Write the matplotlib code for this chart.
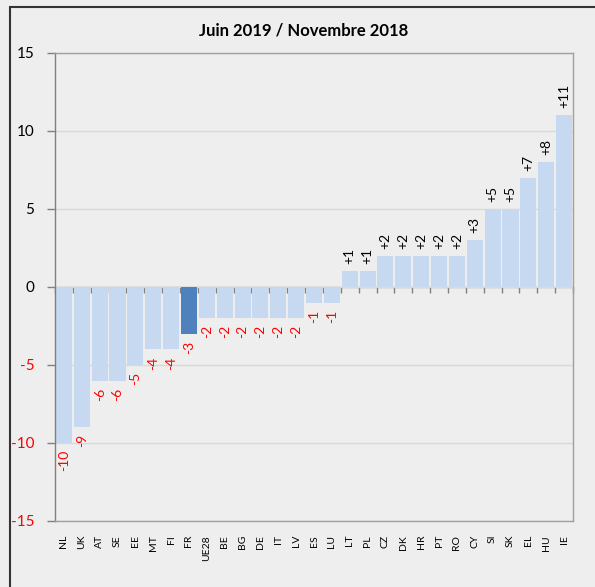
import matplotlib
matplotlib.use("Agg")
import matplotlib.pyplot as plt
from matplotlib.patches import Rectangle
import numpy as np

countries = ["NL", "UK", "AT", "SE", "EE", "MT", "FI", "FR", "UE28", "BE", "BG", "DE",
             "IT", "LV", "ES", "LU", "LT", "PL", "CZ", "DK", "HR", "PT", "RO", "CY",
             "SI", "SK", "EL", "HU", "IE"]
values = [-10, -9, -6, -6, -5, -4, -4, -3, -2, -2, -2, -2,
          -2, -2, -1, -1, 1, 1, 2, 2, 2, 2, 2, 3,
          5, 5, 7, 8, 11]
highlight = "FR"
title = "Juin 2019 / Novembre 2018"
yticks = [-15, -10, -5, 0, 5, 10, 15]

plt.rcParams['font.family'] = ['Lato', 'DejaVu Sans']

BG = "#EEEEEE"
fig = plt.figure(figsize=(5.95, 5.87), dpi=100, facecolor=BG)
ax = fig.add_axes([55/595, 1-521/587, (573-55)/595, (521-53)/587])
ax.set_facecolor(BG)

x = np.arange(len(countries))
colors = ["#4F81BD" if c == highlight else "#C6D9F1" for c in countries]
bars = ax.bar(x, values, width=0.9, color=colors, zorder=2)

# bar labels
labels = [f"{v:+d}" for v in values]
anns = ax.bar_label(bars, labels=labels, rotation=90, padding=5, fontsize=10)
for a, v in zip(anns, values):
    a.set_color("black" if v > 0 else "#FF0000")

ax.set_xlim(-0.5, len(countries) - 0.5)
ax.set_ylim(yticks[0], yticks[-1])
ax.set_yticks(yticks)
ax.set_yticklabels([str(t) for t in yticks], fontsize=11)
for lab, t in zip(ax.get_yticklabels(), yticks):
    lab.set_color("#FF0000" if t < 0 else "black")
ax.tick_params(axis='y', length=6, width=1, color="#808080", pad=9, direction='out')

ax.set_xticks(x)
ax.set_xticklabels(countries, rotation=90, fontsize=7.5)
ax.tick_params(axis='x', length=0, pad=10)

ax.grid(axis='y', color="#D9D9D9", linewidth=1, zorder=1)
ax.set_axisbelow(True)
for s in ax.spines.values():
    s.set_color("#A0A0A0")
    s.set_linewidth(1)
    s.set_zorder(4)
ax.spines['left'].set_color("#808080")

# zero line with tick marks at category boundaries
sec = ax.secondary_xaxis(0.5)
sec.set_xticks(np.arange(len(countries) + 1) - 0.5)
sec.set_xticklabels([])
sec.tick_params(axis='x', length=4, width=1, color="#808080", direction='in')
sec.spines['bottom'].set_color("#808080")
sec.spines['bottom'].set_linewidth(1.5)

fig.text(304/595, 1-31/587, title, ha='center', va='center', fontsize=12, fontweight='bold')

# outer frame
fig.patches.append(Rectangle((10/595, -0.05), 1.0, 1 - 7/587 + 0.05, transform=fig.transFigure,
                             fill=False, edgecolor="#333333", linewidth=1.5))

fig.savefig("out.png", dpi=100, facecolor=BG)
